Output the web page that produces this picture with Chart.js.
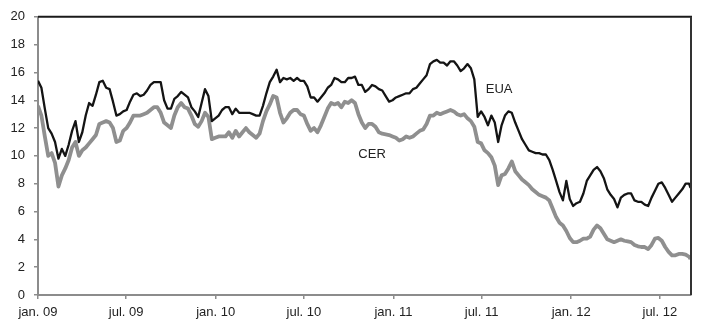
<!DOCTYPE html>
<html>
<head>
<meta charset="utf-8">
<script src="https://cdn.jsdelivr.net/npm/chart.js@4/dist/chart.umd.min.js"></script>
<style>
html,body{margin:0;padding:0;background:#fff;}
#wrap{width:720px;height:336px;}
</style>
</head>
<body>
<div id="wrap"><canvas id="c" width="720" height="336"></canvas></div>
<script>
// Days since 1 Jan 2009 (weekly samples)
const days = [0,7,14,21,28,35,42,49,56,63,70,77,84,91,98,105,112,119,126,133,140,147,154,161,168,175,182,189,196,203,210,217,224,231,238,245,252,259,266,273,280,287,294,301,308,315,322,329,336,343,350,357,364,371,378,385,392,399,406,413,420,427,434,441,448,455,462,469,476,483,490,497,504,511,518,525,532,539,546,553,560,567,574,581,588,595,602,609,616,623,630,637,644,651,658,665,672,679,686,693,700,707,714,721,728,735,742,749,756,763,770,777,784,791,798,805,812,819,826,833,840,847,854,861,868,875,882,889,896,903,910,917,924,931,938,945,952,959,966,973,980,987,994,1001,1008,1015,1022,1029,1036,1043,1050,1057,1064,1071,1078,1085,1092,1099,1106,1113,1120,1127,1134,1141,1148,1155,1162,1169,1176,1183,1190,1197,1204,1211,1218,1225,1232,1239,1246,1253,1260,1267,1274,1281,1288,1295,1302,1309,1316,1323,1330,1337,1340];

const eua = [15.4,14.9,13.4,12.0,11.6,11.0,9.8,10.5,10.0,10.8,11.8,12.5,11.0,11.7,12.9,13.8,13.6,14.4,15.3,15.4,
14.9,14.8,13.9,12.9,13.0,13.2,13.3,13.9,14.4,14.5,14.3,14.4,14.7,15.1,15.3,15.3,15.3,14.0,13.4,13.4,
14.1,14.3,14.6,14.4,14.2,13.5,13.2,12.8,13.8,14.8,14.3,12.5,12.7,12.9,13.3,13.5,13.5,13.0,13.4,13.1,
13.1,13.1,13.1,13.0,12.9,12.9,13.6,14.5,15.3,15.7,16.2,15.3,15.6,15.5,15.6,15.4,15.6,15.4,15.4,15.0,
14.2,14.2,13.9,14.2,14.5,14.9,15.1,15.6,15.5,15.3,15.3,15.6,15.6,15.7,15.1,15.1,14.6,14.8,15.1,15.0,
14.8,14.7,14.3,13.9,14.0,14.2,14.3,14.4,14.5,14.5,14.8,14.9,15.2,15.5,15.8,16.6,16.8,16.9,16.7,16.7,
16.5,16.8,16.8,16.5,16.1,16.3,16.6,16.3,15.5,12.8,13.2,12.8,12.2,12.9,12.4,11.0,12.2,12.9,13.2,13.1,
12.4,11.8,11.2,10.8,10.4,10.3,10.2,10.2,10.1,10.1,9.7,9.0,8.2,7.4,6.8,8.2,6.9,6.4,6.6,6.7,
7.3,8.2,8.6,9.0,9.2,8.9,8.4,7.6,7.2,6.9,6.3,7.0,7.2,7.3,7.3,6.8,6.7,6.7,6.5,6.4,
7.0,7.5,8.0,8.1,7.7,7.2,6.7,7.0,7.3,7.6,8.0,8.0,7.7];

const cer = [13.6,12.9,11.4,10.0,10.2,9.5,7.8,8.6,9.1,9.7,10.6,11.0,10.0,10.4,10.6,10.9,11.2,11.5,12.3,12.4,
12.5,12.4,12.0,11.0,11.1,11.8,12.0,12.4,12.9,12.9,12.9,13.0,13.1,13.3,13.5,13.5,13.1,12.4,12.2,12.0,
12.9,13.5,13.8,13.5,13.4,12.9,12.3,12.1,12.5,13.1,12.8,11.2,11.3,11.4,11.4,11.4,11.7,11.3,11.8,11.4,
11.7,12.0,11.7,11.5,11.3,11.6,12.5,13.2,13.7,14.3,14.2,13.1,12.4,12.7,13.1,13.3,13.3,13.0,12.9,12.3,
11.8,12.0,11.7,12.2,12.8,13.4,13.8,13.7,13.8,13.5,13.9,13.8,14.0,13.8,13.0,12.4,12.0,12.3,12.3,12.1,
11.7,11.6,11.55,11.5,11.4,11.3,11.1,11.2,11.4,11.3,11.4,11.6,11.8,11.9,12.3,12.9,12.9,13.1,13.0,13.1,
13.2,13.3,13.2,13.0,12.9,13.0,12.7,12.5,12.1,11.0,10.9,10.4,10.2,9.9,9.3,7.9,8.6,8.7,9.1,9.6,
8.9,8.6,8.3,8.1,7.9,7.6,7.4,7.2,7.1,7.0,6.8,6.2,5.6,5.2,5.0,4.6,4.1,3.8,3.8,3.9,
4.05,4.05,4.2,4.7,5.0,4.8,4.4,4.0,3.9,3.8,3.9,4.0,3.9,3.85,3.8,3.6,3.5,3.45,3.45,3.3,
3.6,4.05,4.1,3.9,3.45,3.1,2.85,2.85,2.95,2.95,2.9,2.75,2.6];

const tickDays = [0,181,365,546,730,911,1095,1277];
const tickLabels = ['jan. 09','jul. 09','jan. 10','jul. 10','jan. 11','jul. 11','jan. 12','jul. 12'];
const seriesNames = ['EUA','CER'];
// series name labels placed in data coordinates [day, value]
const nameDays = [947, 686];
const nameValues = [14.8, 10.1];

const FONT = "'Liberation Sans', Arial, sans-serif";

const framePlugin = {
  id: 'frame',
  afterDatasetsDraw(chart) {
    const {ctx, chartArea: a, scales} = chart;
    ctx.save();
    ctx.strokeStyle = '#1a1a1a';
    ctx.lineWidth = 2;
    ctx.beginPath();
    ctx.moveTo(a.left, a.top);
    ctx.lineTo(a.right + 1, a.top);
    ctx.stroke();
    ctx.strokeStyle = '#333';
    ctx.beginPath();
    ctx.moveTo(a.right, a.top);
    ctx.lineTo(a.right, a.bottom);
    ctx.stroke();
    ctx.fillStyle = '#222';
    ctx.font = '13px ' + FONT;
    ctx.textAlign = 'center';
    ctx.textBaseline = 'middle';
    for (let i = 0; i < seriesNames.length; i++) {
      ctx.fillText(seriesNames[i], scales.x.getPixelForValue(nameDays[i]), scales.y.getPixelForValue(nameValues[i]));
    }
    ctx.restore();
  }
};

new Chart(document.getElementById('c'), {
  type: 'line',
  data: {
    datasets: [
      {
        label: seriesNames[0],
        data: days.map((d, i) => ({x: d, y: eua[i]})),
        borderColor: '#141414',
        borderWidth: 2.3,
        pointRadius: 0,
        tension: 0,
        borderJoinStyle: 'round'
      },
      {
        label: seriesNames[1],
        data: days.map((d, i) => ({x: d, y: cer[i]})),
        borderColor: '#8f8f8f',
        borderWidth: 3.8,
        pointRadius: 0,
        tension: 0,
        borderJoinStyle: 'round'
      }
    ]
  },
  options: {
    responsive: false,
    animation: false,
    layout: {padding: {top: 15, right: 29, left: 0, bottom: 0}},
    plugins: {legend: {display: false}, tooltip: {enabled: false}},
    scales: {
      x: {
        type: 'linear',
        min: 0,
        max: 1341,
        afterBuildTicks(scale) { scale.ticks = tickDays.map(v => ({value: v})); },
        afterFit(scale) { scale.height = 41; },
        border: {display: true, color: '#8c8c8c', width: 2},
        grid: {drawOnChartArea: false, drawTicks: true, tickLength: 4, color: '#8c8c8c', lineWidth: 1.5},
        ticks: {
          autoSkip: false,
          maxRotation: 0,
          padding: 6,
          color: '#222',
          font: {family: FONT, size: 13},
          callback(value) { const k = tickDays.indexOf(value); return k >= 0 ? tickLabels[k] : ''; }
        }
      },
      y: {
        min: 0,
        max: 20,
        afterFit(scale) { scale.width = 38; },
        border: {display: true, color: '#8c8c8c', width: 2},
        grid: {drawOnChartArea: false, drawTicks: true, tickLength: 4, color: '#8c8c8c', lineWidth: 1.5},
        ticks: {
          stepSize: 2,
          padding: 9,
          color: '#222',
          font: {family: FONT, size: 13}
        }
      }
    }
  },
  plugins: [framePlugin]
});
</script>
</body>
</html>
